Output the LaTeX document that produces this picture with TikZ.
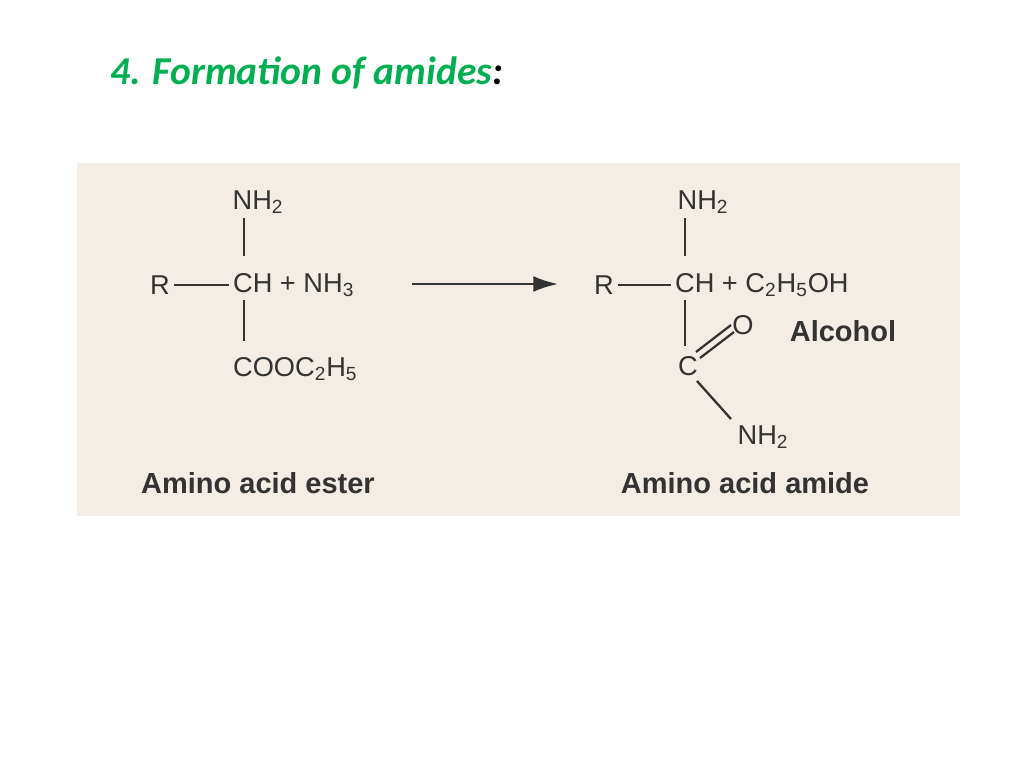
\documentclass[tikz,border=0pt]{standalone}
\usepackage{fontspec}
\setmainfont{Liberation Sans}
\newfontfamily\titlefont{Carlito}
\usetikzlibrary{positioning,arrows.meta}
\definecolor{panelbg}{HTML}{F3EDE5}
\definecolor{inkgray}{HTML}{333333}
\definecolor{titlegreen}{HTML}{00B050}
\tikzset{
  chem/.style={font=\fontsize{15.5}{17}\selectfont, text=inkgray, inner sep=1pt},
  caption/.style={chem, font=\fontsize{16.5}{18}\selectfont\bfseries},
  bond/.style={draw=inkgray, line width=1.3pt}
}
\begin{document}
\begin{tikzpicture}[x=0.02cm, y=-0.02cm]
  \useasboundingbox (0,0) rectangle (1024,768);
  % title
  \node[anchor=west, inner sep=0pt, font=\titlefont\fontsize{22.5}{24}\selectfont\bfseries\itshape] (title) at (110,73)
    {\textcolor{titlegreen}{4. Formation of amides}:};
  % panel
  \fill[panelbg] (77,163) rectangle (960,516);
  % --- ester side
  \node[chem] (nhA) at (258,202) {NH\textsubscript{2}};
  \node[chem, anchor=west] (chA) at (231,285) {CH + NH\textsubscript{3}};
  \node[chem] (rA) at (160,285) {R};
  \node[chem, anchor=west] (esA) at (231,369) {COOC\textsubscript{2}H\textsubscript{5}};
  \draw[bond] (244,218) -- (244,256);
  \draw[bond] (244,300) -- (244,341);
  \draw[bond] (rA.east) ++(2,0) -- (229,285);
  \node[caption] (capA) at (258,483) {Amino acid ester};
  % --- arrow
  \coordinate (arS) at (412,284);
  \coordinate (arE) at (558,284);
  \draw[bond, -{Latex[length=14pt,width=9pt]}] (arS) -- (arE);
  % --- amide side
  \node[chem] (nhB) at (703,202) {NH\textsubscript{2}};
  \node[chem, anchor=west] (chB) at (673,285) {CH + C\textsubscript{2}H\textsubscript{5}OH};
  \node[chem] (rB) at (604,285) {R};
  \draw[bond] (685,218) -- (685,256);
  \draw[bond] (685,300) -- (685,346);
  \draw[bond] (rB.east) ++(2,0) -- (671,285);
  \node[chem] (cB) at (688,366) {C};
  \node[chem] (oB) at (743,325) {O};
  \draw[bond] (696,352) -- (731,325);
  \draw[bond] (700,358) -- (734,332);
  \node[caption] (alc) at (843,331) {Alcohol};
  \node[chem] (nh2B) at (763,437) {NH\textsubscript{2}};
  \draw[bond] (697,381) -- (731,419);
  \node[caption] (capB) at (745,483) {Amino acid amide};
\end{tikzpicture}
\end{document}
